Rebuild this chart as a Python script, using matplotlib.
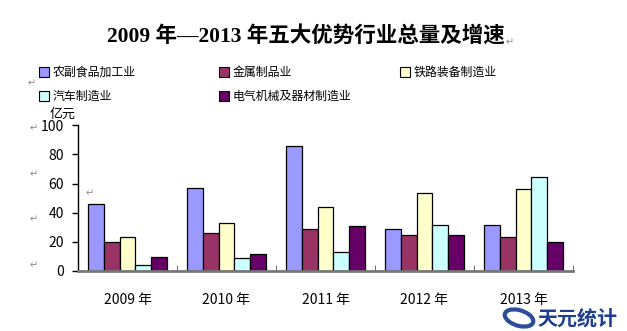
import matplotlib
matplotlib.use('Agg')
import matplotlib.pyplot as plt
import numpy as np
from matplotlib.patches import Ellipse, Rectangle

plt.rcParams['font.family'] = ['Noto Sans CJK SC', 'DejaVu Sans']

# data (亿元)
years = ['2009 年', '2010 年', '2011 年', '2012 年', '2013 年']
series_names = ['农副食品加工业', '金属制品业', '铁路装备制造业', '汽车制造业', '电气机械及器材制造业']
agri = [46.2, 56.8, 85.7, 28.5, 31.3]
metal = [20.2, 26.4, 28.5, 24.4, 23.0]
rail = [23.0, 32.6, 43.7, 53.3, 56.1]
auto = [4.4, 9.2, 13.1, 31.3, 64.4]
electric = [9.4, 12.0, 30.6, 24.4, 20.2]
yticks = [0, 20, 40, 60, 80, 100]

colors = ['#9999FF', '#993366', '#FFFFCC', '#CCFFFF', '#660066']
values = [agri, metal, rail, auto, electric]

fig = plt.figure(figsize=(6.27, 3.31), dpi=100)
ax = fig.add_axes([78 / 627, 1 - 271 / 331, 495 / 627, 145.8 / 331])

x = np.arange(len(years))
w = 0.158
for i, (vals, c) in enumerate(zip(values, colors)):
    ax.bar(x + (i - 2) * w, vals, width=w, color=c, edgecolor='black', linewidth=0.9, zorder=2)

ax.set_xlim(-0.5, len(years) - 0.5)
ax.set_ylim(0, 100)
ax.set_yticks(yticks)
ax.set_yticklabels([str(t) for t in yticks], fontsize=10)
ax.set_xticks(x)
ax.set_xticklabels(years, fontsize=10)
ax.tick_params(axis='x', length=0, pad=16)
ax.set_xticks(np.arange(len(years) + 1) - 0.5, minor=True)
ax.tick_params(axis='x', which='minor', direction='in', length=4, color='#555555')
ax.tick_params(axis='y', direction='out', length=4, width=1, pad=6)
for s in ['top', 'right']:
    ax.spines[s].set_visible(False)
ax.spines['bottom'].set_color('#777777')
ax.spines['bottom'].set_linewidth(2)
ax.spines['left'].set_linewidth(1)

# title
fig.text(305.5 / 627, 1 - 37 / 331, '2009 年—2013 年五大优势行业总量及增速', ha='center', va='center',
         fontsize=15.5, fontweight='bold', family=['Liberation Serif', 'Noto Sans CJK SC'])
fig.text(506 / 627, 1 - 42 / 331, '↵', color='#888888', fontsize=7, family=['DejaVu Sans'], va='center')

# legend drawn by hand to keep the three column layout
legend_pos = [(39, 72), (219, 72), (400, 72), (39, 96), (219, 96)]
for (lx, ly), name, c in zip(legend_pos, series_names, colors):
    fig.patches.append(Rectangle((lx / 627, 1 - (ly + 4.5) / 331), 9.5 / 627, 9.5 / 331,
                                 transform=fig.transFigure, facecolor=c, edgecolor='black', linewidth=0.8))
    fig.text((lx + 14) / 627, 1 - ly / 331, name, fontsize=8.6, va='center')

fig.text(50 / 627, 1 - 114 / 331, '亿元', fontsize=9.4, va='center')

# stray return marks from the source document
for px, py in [(28, 83), (30, 128), (30, 174), (30, 219), (30, 265), (86, 193)]:
    fig.text(px / 627, 1 - py / 331, '↵', color='#888888', fontsize=7, family=['DejaVu Sans'], va='center')

# watermark
fig.patches.append(Ellipse((519 / 627, 1 - 318 / 331), 24 / 627, 19 / 331, angle=35, transform=fig.transFigure,
                           facecolor='none', edgecolor='#2a4d9b', linewidth=3))
fig.text(537 / 627, 1 - 318 / 331, '天元统计', fontsize=14.4, fontweight='bold', color='#1e3f8f', va='center')

fig.savefig('out.png', dpi=100)
